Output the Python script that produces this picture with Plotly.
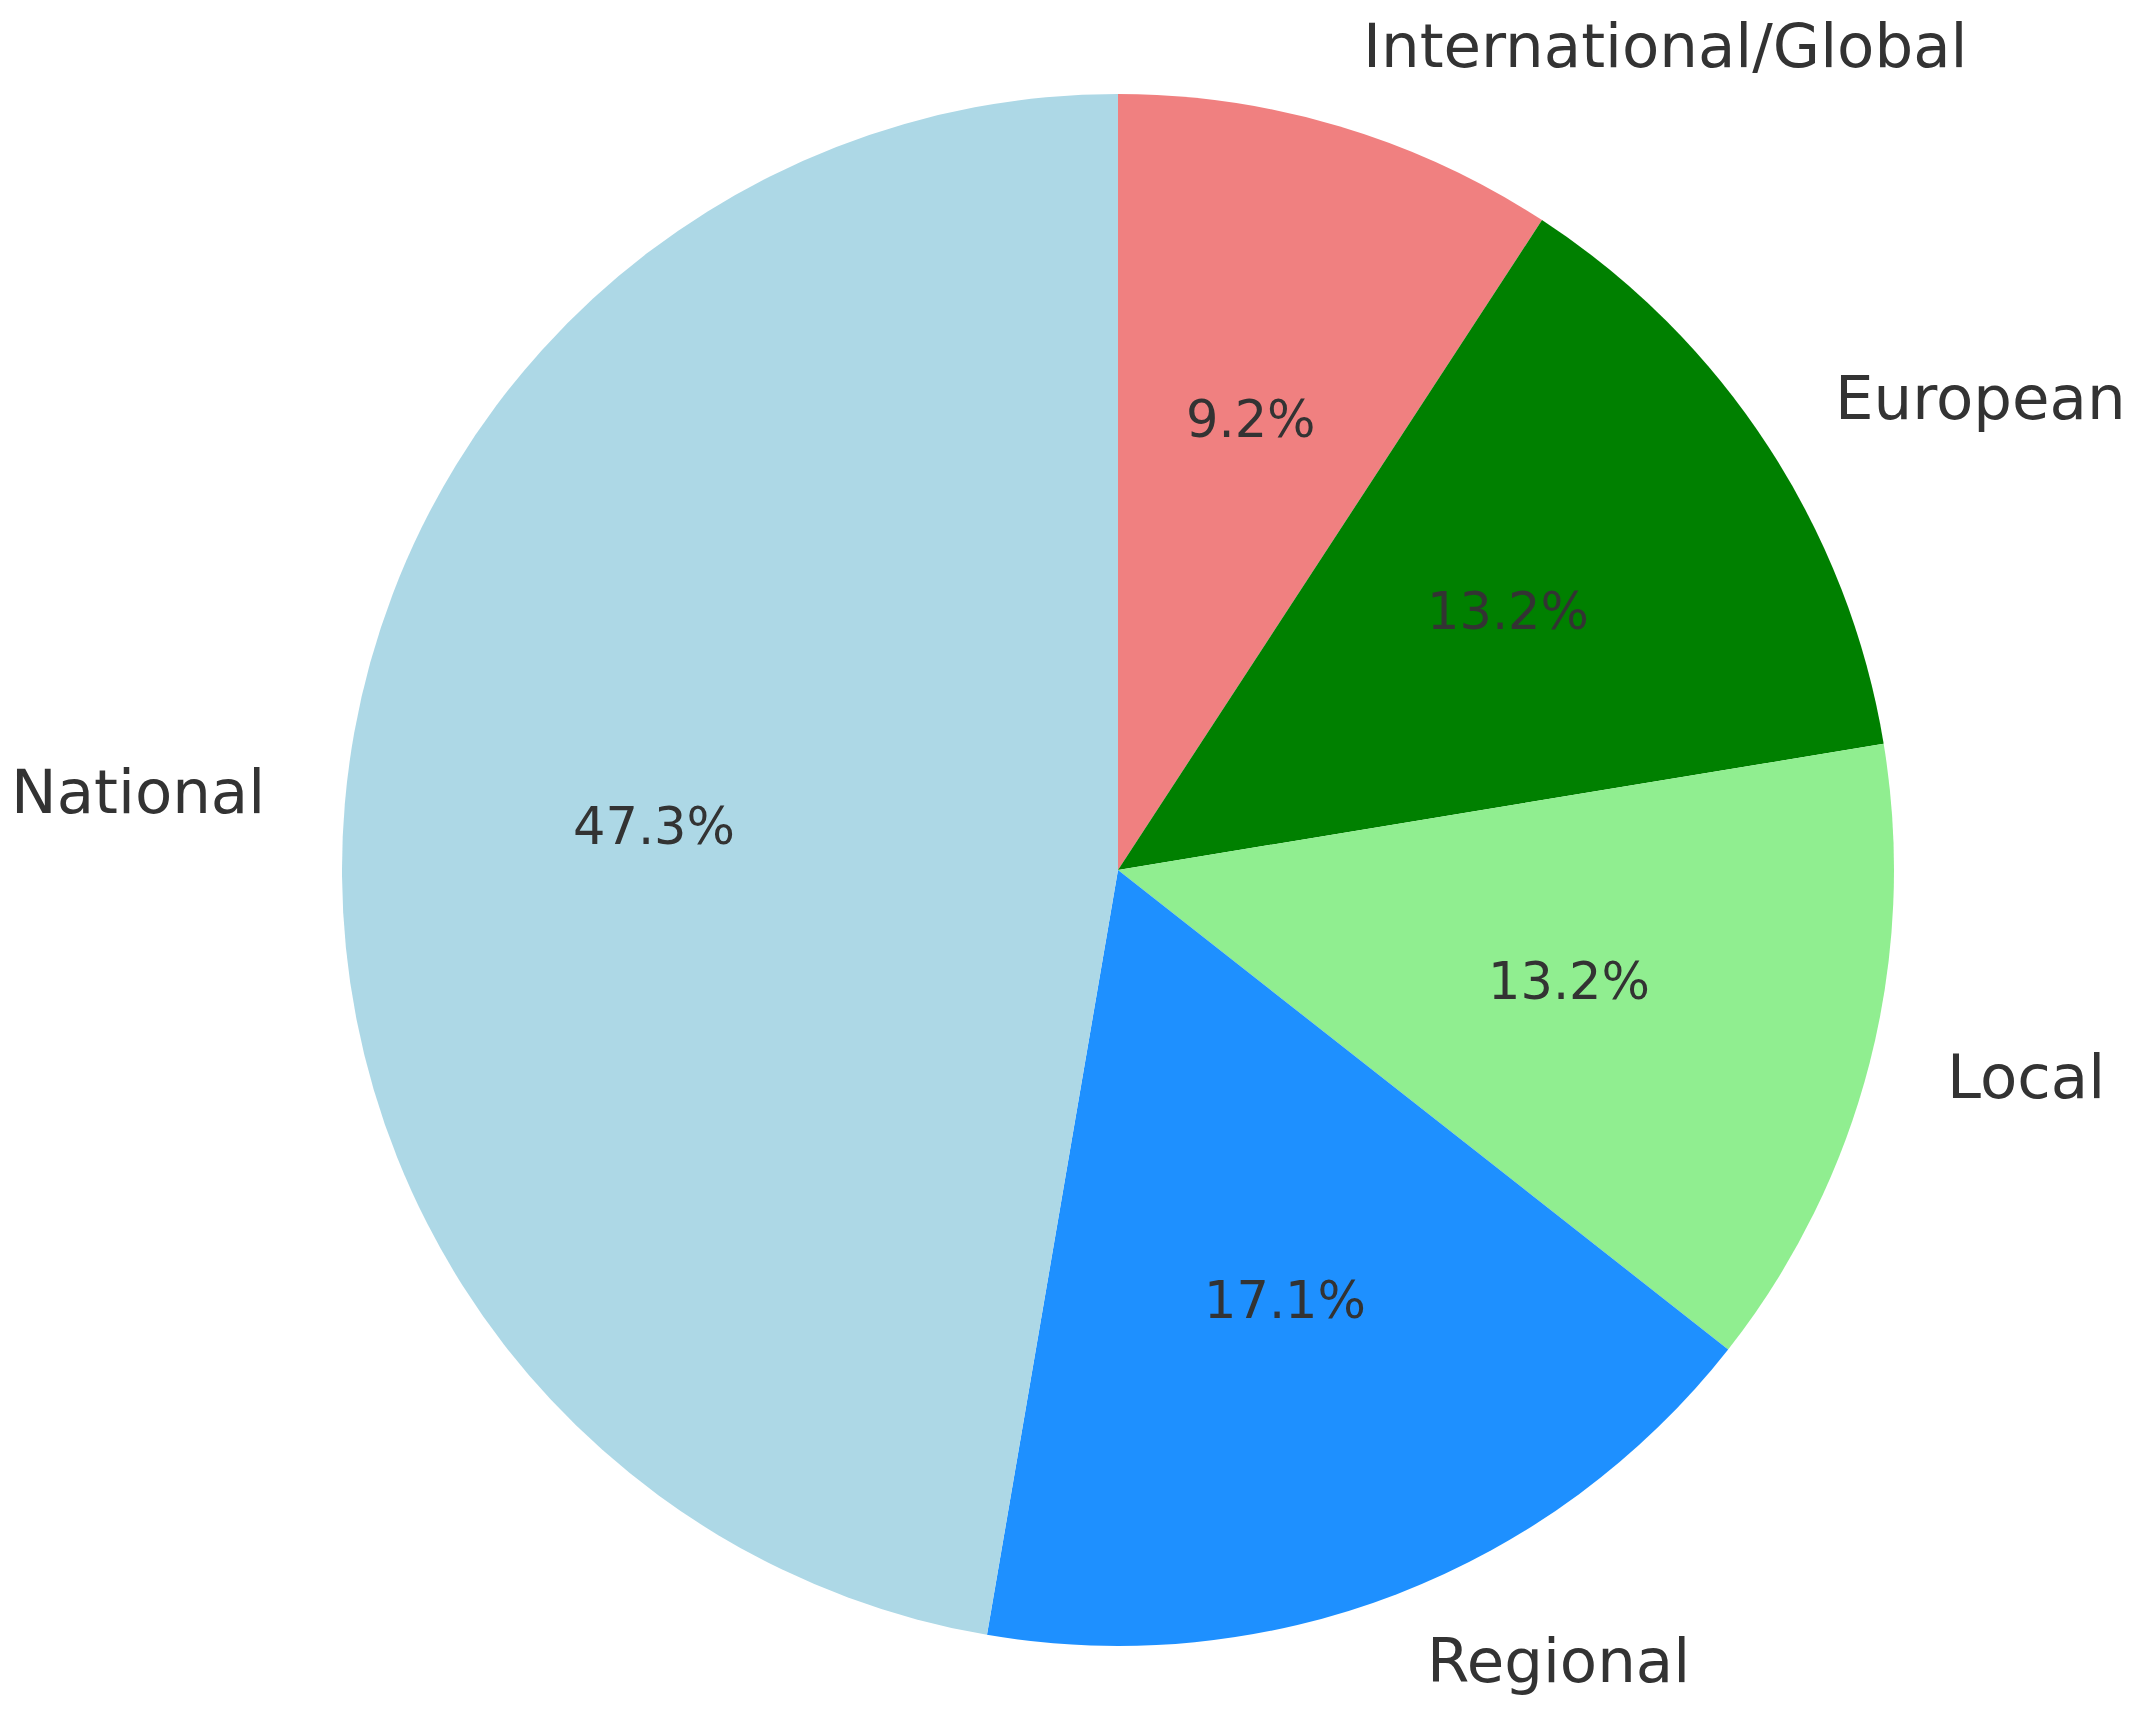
import math
import plotly.graph_objects as go

labels = ["International/Global", "European", "Local", "Regional", "National"]
values = [9.2, 13.2, 13.2, 17.1, 47.3]
colors = ["#F08080", "#008000", "#90EE90", "#1E90FF", "#ADD8E6"]

W, H = 2141, 1717
CX, CY, R = 1110, 862, 776  # pie centre/radius in pixels (from top-left)
LABEL_DIST, PCT_DIST = 1.1, 0.6
TEXT_COLOR = "#333333"
FONT = "DejaVu Sans"

dom_x = [(CX - R) / W, (CX + R) / W]
dom_y = [(H - CY - R) / H, (H - CY + R) / H]

fig = go.Figure(go.Pie(
    labels=labels, values=values, sort=False, direction="clockwise", rotation=0,
    marker=dict(colors=colors, line=dict(width=0)),
    textinfo="none", hoverinfo="label+percent", showlegend=False,
    domain=dict(x=dom_x, y=dom_y),
))

total = sum(values)
annotations = []
cum = 0.0
for lab, v in zip(labels, values):
    mid = cum + v / 2
    cum += v
    ang = math.radians(90 - 360 * mid / total)
    # outer label
    lx = CX + LABEL_DIST * R * math.cos(ang)
    ly = CY - LABEL_DIST * R * math.sin(ang)
    annotations.append(dict(
        x=lx / W, y=1 - ly / H, xref="paper", yref="paper", text=lab, showarrow=False,
        xanchor="left" if math.cos(ang) > 0 else "right", yanchor="middle", yshift=6,
        font=dict(family=FONT, size=61, color=TEXT_COLOR),
    ))
    # percentage
    px = CX + PCT_DIST * R * math.cos(ang)
    py = CY - PCT_DIST * R * math.sin(ang)
    annotations.append(dict(
        x=px / W, y=1 - py / H, xref="paper", yref="paper",
        text=f"{100 * v / total:.1f}%", showarrow=False,
        xanchor="center", yanchor="middle", yshift=4,
        font=dict(family=FONT, size=51, color=TEXT_COLOR),
    ))

fig.update_layout(
    width=W, height=H, margin=dict(l=0, r=0, t=0, b=0),
    paper_bgcolor="white", plot_bgcolor="white",
    annotations=annotations,
)
fig.write_html("out.html")
